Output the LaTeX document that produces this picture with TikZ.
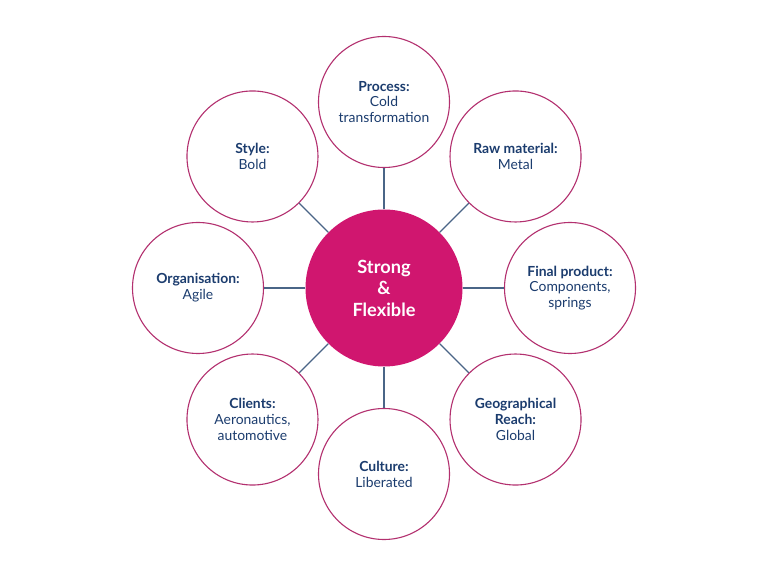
\documentclass[tikz,border=0pt]{standalone}
\usepackage{fontspec}
\setmainfont{Lato}
\definecolor{mag}{HTML}{D0166F}
\definecolor{ring}{HTML}{B3306F}
\definecolor{navy}{HTML}{1B3C6E}
\definecolor{link}{HTML}{4A6587}
\begin{document}
\begin{tikzpicture}[x=1pt,y=1pt,
  outer/.style={circle,draw=ring,line width=1.1pt,fill=white,minimum size=131pt,inner sep=0pt,
    align=center,text=navy,font=\fontsize{13.9}{15.8}\selectfont},
  hub/.style={circle,fill=mag,minimum size=157pt,inner sep=0pt,align=center,text=white,
    font=\fontsize{18.2}{21.5}\selectfont\bfseries},
  conn/.style={draw=link,line width=1.1pt}]
\useasboundingbox (0,0) rectangle (768,576);
\fill[white] (0,0) rectangle (768,576);
\node[hub] (c) at (384,288) {Strong\\\&\\Flexible};
\path (c) ++(90:186) node[outer] (p) {\textbf{Process:}\\Cold\\transformation};
\path (c) ++(45:186) node[outer] (r) {\textbf{Raw material:}\\Metal};
\path (c) ++(0:186) node[outer] (f) {\textbf{Final product:}\\Components,\\springs};
\path (c) ++(-45:186) node[outer] (g) {\textbf{Geographical}\\\textbf{Reach:}\\Global};
\path (c) ++(-90:186) node[outer] (cu) {\textbf{Culture:}\\Liberated};
\path (c) ++(-135:186) node[outer] (cl) {\textbf{Clients:}\\Aeronautics,\\automotive};
\path (c) ++(180:186) node[outer] (o) {\textbf{Organisation:}\\Agile};
\path (c) ++(135:186) node[outer] (s) {\textbf{Style:}\\Bold};
\foreach \n in {p,r,f,g,cu,cl,o,s} \draw[conn] (c) -- (\n);
\end{tikzpicture}
\end{document}
